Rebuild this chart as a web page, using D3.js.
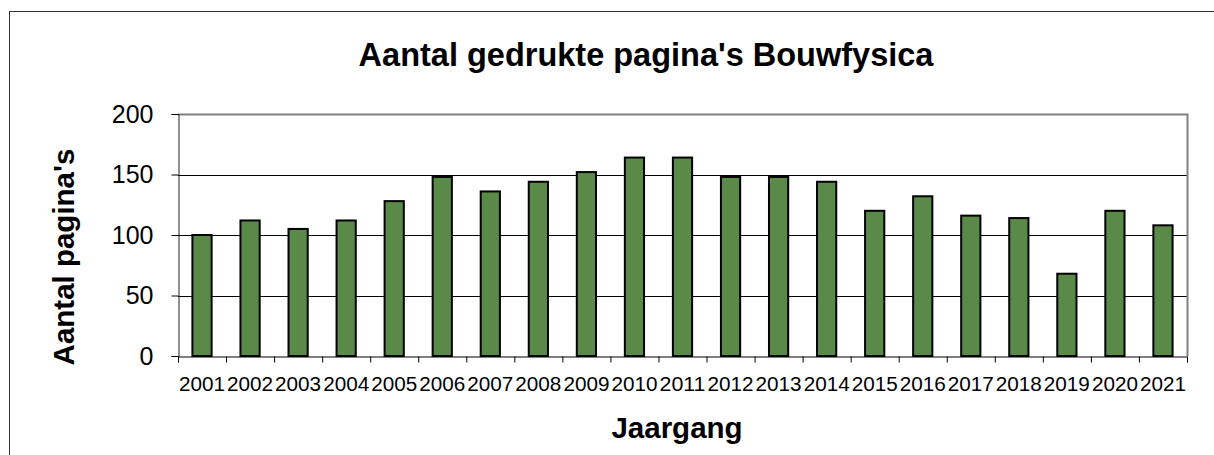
<html>
<head>
<script src="https://d3js.org/d3.v7.min.js"></script>
<style>
  body { margin: 0; background: #fff; }
  text { font-family: Arial, "Liberation Sans", sans-serif; }
</style>
</head>
<body>
<script>
// jaargangen en aantal pagina's
var jaren = ["2001","2002","2003","2004","2005","2006","2007","2008","2009","2010","2011",
             "2012","2013","2014","2015","2016","2017","2018","2019","2020","2021"];
var paginas = [100,112,105,112,128,148,136,144,152,164,164,148,148,144,120,132,116,114,68,120,108];
var yTicks = [0,50,100,150,200];

var titel = "Aantal gedrukte pagina's Bouwfysica";
var xTitel = "Jaargang";
var yTitel = "Aantal pagina's";

var W = 1214, H = 455;
var links = 178, rechts = 1187, boven = 114, onder = 356;

var svg = d3.select("body").append("svg")
    .attr("width", W)
    .attr("height", H);

// kader rond de grafiek
svg.append("rect")
    .attr("x", 9.5).attr("y", 11.5)
    .attr("width", W + 20).attr("height", H + 20)
    .attr("fill", "none")
    .attr("stroke", "#333");

var x = d3.scaleBand()
    .domain(jaren)
    .range([links, rechts])
    .paddingInner(0.6)
    .paddingOuter(0.3);

var y = d3.scaleLinear()
    .domain([0, 200])
    .range([onder, boven]);

// rasterlijnen
svg.append("g").selectAll("line")
    .data(yTicks.slice(1, 4))
    .enter().append("line")
    .attr("x1", links).attr("x2", rechts)
    .attr("y1", d => Math.round(y(d)) + 0.5)
    .attr("y2", d => Math.round(y(d)) + 0.5)
    .attr("stroke", "#000");

// rand van plotgebied (boven en rechts grijs)
svg.append("path")
    .attr("d", "M" + links + "," + (boven + 0.5) + "H" + (rechts + 0.5) + "V" + onder)
    .attr("fill", "none")
    .attr("stroke", "#808080")
    .attr("stroke-width", 2);

// staven
svg.append("g").selectAll("rect")
    .data(paginas)
    .enter().append("rect")
    .attr("x", (d, i) => x(jaren[i]))
    .attr("y", d => y(d))
    .attr("width", x.bandwidth())
    .attr("height", d => y(0) - y(d))
    .attr("fill", "#5a8a48")
    .attr("stroke", "#000")
    .attr("stroke-width", 2);

// y-as
var yAs = svg.append("g")
    .attr("transform", "translate(" + (links + 0.5) + ",0)")
    .call(d3.axisLeft(y).tickValues(yTicks).tickSize(7).tickPadding(18));
yAs.select(".domain").attr("stroke", "#222");
yAs.selectAll("text").attr("font-size", 25).attr("fill", "#000")
    .attr("font-family", "Arial, 'Liberation Sans', sans-serif");

// x-as: streepjes op de categoriegrenzen
var grens = d3.scaleLinear().domain([0, jaren.length]).range([links, rechts]);
var xAs = svg.append("g")
    .attr("transform", "translate(0," + (onder + 0.5) + ")")
    .call(d3.axisBottom(grens).tickValues(d3.range(jaren.length + 1)).tickSize(6).tickFormat(""));
xAs.select(".domain").attr("stroke", "#000");

svg.append("g").selectAll("text")
    .data(jaren)
    .enter().append("text")
    .attr("x", d => x(d) + x.bandwidth() / 2)
    .attr("y", 391)
    .attr("text-anchor", "middle")
    .attr("font-size", 20)
    .attr("textLength", 46)
    .attr("lengthAdjust", "spacingAndGlyphs")
    .text(d => d);

// titels
svg.append("text")
    .attr("x", 646).attr("y", 66)
    .attr("text-anchor", "middle")
    .attr("font-size", 32.5)
    .attr("font-weight", "bold")
    .text(titel);

svg.append("text")
    .attr("x", 677).attr("y", 438)
    .attr("text-anchor", "middle")
    .attr("font-size", 29.5)
    .attr("font-weight", "bold")
    .text(xTitel);

svg.append("text")
    .attr("transform", "translate(74,257) rotate(-90)")
    .attr("text-anchor", "middle")
    .attr("font-size", 29.5)
    .attr("font-weight", "bold")
    .text(yTitel);
</script>
</body>
</html>
